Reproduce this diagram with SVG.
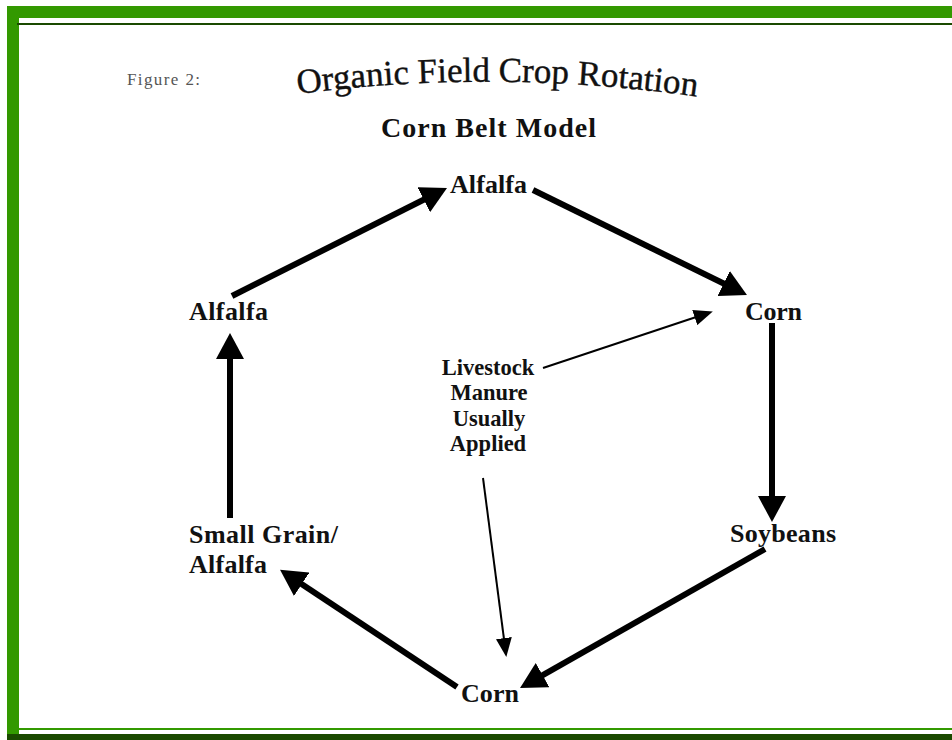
<svg xmlns="http://www.w3.org/2000/svg" width="952" height="740" viewBox="0 0 952 740">
<style>
.lbl{font-family:"Liberation Serif","Times New Roman",serif;font-weight:bold;font-size:26px;fill:#111}
.note{font-family:"Liberation Serif","Times New Roman",serif;font-weight:bold;font-size:22.5px;fill:#111;text-anchor:middle}
.thick{stroke:#000;stroke-width:6;fill:none;marker-end:url(#headThick)}
.thin{stroke:#000;stroke-width:2;fill:none;marker-end:url(#headThin)}
.green{fill:#339900}
.dark{fill:#1a4a00}
</style>
<defs>
<marker id="headThick" markerUnits="userSpaceOnUse" markerWidth="26" markerHeight="28" viewBox="0 0 26 28" refX="12" refY="14" orient="auto"><path d="M0,0 L26,14 L0,28 Z" fill="#000"/></marker>
<marker id="headThin" markerUnits="userSpaceOnUse" markerWidth="19" markerHeight="16" viewBox="0 0 19 16" refX="15" refY="8" orient="auto"><path d="M0,0 L19,8 L0,16 Z" fill="#000"/></marker>
<path id="titleArc" d="M298,94 Q497,68 699,97"/>
</defs>
<rect x="0" y="0" width="952" height="740" fill="#fff"/>
<g id="frame">
<rect class="green" x="7" y="6" width="945" height="12"/>
<rect class="green" x="7" y="6" width="12" height="728"/>
<rect class="dark" x="17" y="23" width="935" height="2"/>
<rect class="green" x="19" y="728" width="933" height="2"/>
<rect class="dark" x="7" y="734" width="945" height="6"/>
</g>
<g id="titles">
<text x="127" y="85" font-family="Liberation Serif, serif" font-size="17" fill="#555" textLength="73" lengthAdjust="spacing">Figure 2:</text>
<text font-family="Liberation Serif, serif" font-size="35" fill="#111" stroke="#111" stroke-width="0.4"><textPath href="#titleArc" textLength="400" lengthAdjust="spacing">Organic Field Crop Rotation</textPath></text>
<text x="381" y="137" font-family="Liberation Serif, serif" font-weight="bold" font-size="28" fill="#111" textLength="215" lengthAdjust="spacing">Corn Belt Model</text>
</g>
<g id="connectors">
<line class="thick" x1="232" y1="296" x2="434.5" y2="194.3"/>
<line class="thick" x1="533" y1="190" x2="734.4" y2="288.8"/>
<line class="thick" x1="772" y1="323" x2="772" y2="508"/>
<line class="thick" x1="765" y1="549" x2="532.2" y2="681.1"/>
<line class="thick" x1="457" y1="687" x2="291.7" y2="577.6"/>
<line class="thick" x1="230" y1="518" x2="230" y2="347"/>
<line class="thin" x1="543" y1="368" x2="709" y2="312.8"/>
<line class="thin" x1="483" y1="478" x2="505.8" y2="653"/>
</g>
<g id="alfalfa-top"><text class="lbl" x="450" y="193" textLength="77" lengthAdjust="spacing">Alfalfa</text></g>
<g id="corn-right"><text class="lbl" x="745" y="320" textLength="57" lengthAdjust="spacing">Corn</text></g>
<g id="soybeans"><text class="lbl" x="730" y="542" textLength="106" lengthAdjust="spacing">Soybeans</text></g>
<g id="corn-bottom"><text class="lbl" x="461" y="702" textLength="58" lengthAdjust="spacing">Corn</text></g>
<g id="small-grain"><text class="lbl" x="189" y="543" textLength="149" lengthAdjust="spacing">Small Grain/</text><text class="lbl" x="189" y="573" textLength="78" lengthAdjust="spacing">Alfalfa</text></g>
<g id="alfalfa-left"><text class="lbl" x="189" y="320" textLength="79" lengthAdjust="spacing">Alfalfa</text></g>
<g id="manure-note">
<text class="note" x="488" y="375">Livestock</text>
<text class="note" x="489" y="400">Manure</text>
<text class="note" x="489" y="426">Usually</text>
<text class="note" x="488" y="451">Applied</text>
</g>
</svg>
